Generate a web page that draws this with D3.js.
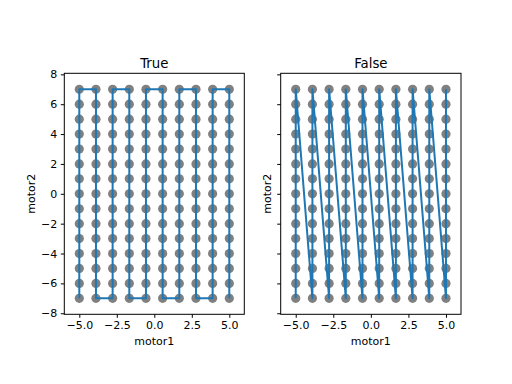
<!DOCTYPE html>
<html>
<head>
<meta charset="utf-8">
<script src="https://cdn.jsdelivr.net/npm/d3@7"></script>
<style>
  body { margin: 0; background: #fff; }
  svg { font-family: "DejaVu Sans", sans-serif; }
</style>
</head>
<body>
<svg id="chart" width="512" height="384"></svg>
<script>
// grid positions of the two motors
const motor1 = [-5, -3.889, -2.778, -1.667, -0.556, 0.556, 1.667, 2.778, 3.889, 5];
const motor2 = [-7, -6, -5, -4, -3, -2, -1, 0, 1, 2, 3, 4, 5, 6, 7];
const panels = ['True', 'False']; // snake scan or not
const xTicks = [-5, -2.5, 0, 2.5, 5];
const yTicks = [-8, -6, -4, -2, 0, 2, 4, 6, 8];

const svg = d3.select('#chart');
const plotTop = 73.3, plotBottom = 314.3;
const panelX = [[64.3, 244.3], [280.7, 461]];

function scanPath(snake) {
    let pts = [];
    motor1.forEach((m1, i) => {
        let col = motor2.map(m2 => [m1, m2]);
        if (snake && i % 2 === 1) col.reverse();
        pts = pts.concat(col);
    });
    return pts;
}

panels.forEach((name, p) => {
    const [x0, x1] = panelX[p];
    const x = d3.scaleLinear().domain([-6, 6]).range([x0, x1]);
    const y = d3.scaleLinear().domain([-8.07, 8.07]).range([plotBottom, plotTop]);
    const g = svg.append('g');

    // gray grid points
    const pts = [];
    motor1.forEach(a => motor2.forEach(b => pts.push([a, b])));
    g.selectAll('circle').data(pts).enter().append('circle')
        .attr('cx', d => x(d[0]))
        .attr('cy', d => y(d[1]))
        .attr('r', 4.6)
        .style('fill', '#808080');

    // scan order line on top
    g.append('path')
        .datum(scanPath(name === 'True'))
        .attr('d', d3.line().x(d => x(d[0])).y(d => y(d[1])))
        .style('fill', 'none')
        .style('stroke', '#1f77b4')
        .style('stroke-width', 2)
        .style('stroke-linejoin', 'round');

    // frame
    g.append('rect')
        .attr('x', x0).attr('y', plotTop)
        .attr('width', x1 - x0).attr('height', plotBottom - plotTop)
        .style('fill', 'none').style('stroke', '#000').style('stroke-width', 1);

    const xAxis = g.append('g')
        .attr('transform', `translate(0,${plotBottom})`)
        .call(d3.axisBottom(x).tickValues(xTicks).tickSize(3.5).tickPadding(3.5)
            .tickFormat(d => d3.format('.1f')(d).replace('-', '\u2212')));
    const yAxis = g.append('g')
        .attr('transform', `translate(${x0},0)`)
        .call(d3.axisLeft(y).tickValues(yTicks).tickSize(3.5).tickPadding(3.5)
            .tickFormat(p === 0 ? (d => String(d).replace('-', '\u2212')) : () => ''));
    [xAxis, yAxis].forEach(a => {
        a.select('.domain').remove();
        a.selectAll('line').style('stroke', '#000');
        a.selectAll('text').style('font-size', '11px').style('fill', '#000')
            .style('font-family', '"DejaVu Sans", sans-serif');
    });

    g.append('text')
        .attr('x', (x0 + x1) / 2).attr('y', 67.5)
        .attr('text-anchor', 'middle')
        .style('font-size', '13.3px')
        .text(name);

    g.append('text')
        .attr('x', (x0 + x1) / 2).attr('y', 344.5)
        .attr('text-anchor', 'middle')
        .style('font-size', '11px')
        .text('motor1');

    const ylx = p === 0 ? 34.5 : 270.5;
    g.append('text')
        .attr('transform', `translate(${ylx},${(plotTop + plotBottom) / 2}) rotate(-90)`)
        .attr('text-anchor', 'middle')
        .style('font-size', '11px')
        .text('motor2');
});
</script>
</body>
</html>
